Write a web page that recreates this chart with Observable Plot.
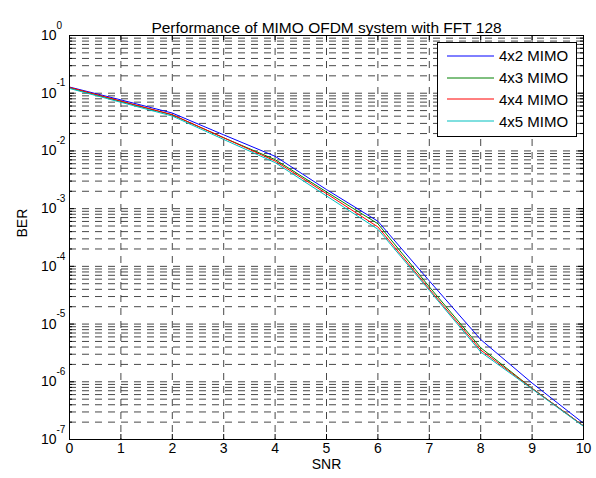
<!DOCTYPE html>
<html><head><meta charset="utf-8">
<script src="https://cdn.jsdelivr.net/npm/d3@7"></script>
<script src="https://cdn.jsdelivr.net/npm/@observablehq/plot@0.6"></script>
<style>
body{margin:0;background:#fff;}
#wrap{position:relative;width:596px;height:478px;font-family:"Liberation Sans",Arial,sans-serif;}
#legend{position:absolute;left:437px;top:42px;width:140px;height:95px;border:1px solid #000;background:#fff;box-sizing:border-box;padding-top:2px;}
.row{height:21.8px;display:flex;align-items:center;font-size:15px;color:#000;}
.row svg{margin-left:9px;margin-right:5px;}
</style></head><body><div id="wrap"><div id="legend"></div></div>
<script>
const title = "Performance of MIMO OFDM system with FFT 128";
const xLabel = "SNR";
const yLabel = "BER";
const snr = [0, 1, 2, 3, 4, 5, 6, 7, 8, 9, 10];
const series = ["4x2 MIMO", "4x3 MIMO", "4x4 MIMO", "4x5 MIMO"];
const colors = ["#0000ff", "#008000", "#ff0000", "#00bfbf"];
const ber4x2 = [0.128, 0.0766, 0.0453, 0.0190, 0.00807, 0.00214, 6.05e-4, 5.6e-5, 5.4e-6, 9.5e-7, 1.91e-7];
const ber4x3 = [0.124, 0.0721, 0.0421, 0.0169, 0.00707, 0.00195, 5.48e-4, 4.42e-5, 3.89e-6, 7.7e-7, 1.72e-7];
const ber4x4 = [0.126, 0.0730, 0.0425, 0.0169, 0.00669, 0.00182, 4.82e-4, 4.03e-5, 3.55e-6, 7.66e-7, 1.72e-7];
const ber4x5 = [0.121, 0.0696, 0.0402, 0.0158, 0.00628, 0.00166, 4.40e-4, 3.83e-5, 3.28e-6, 7.5e-7, 1.69e-7];
const xTicks = [0, 1, 2, 3, 4, 5, 6, 7, 8, 9, 10];
const yExponents = [0, -1, -2, -3, -4, -5, -6, -7];

const berSets = [ber4x2, ber4x3, ber4x4, ber4x5];
const data = series.flatMap((s, i) => snr.map((x, j) => ({series: s, snr: x, ber: berSets[i][j]})));
const yMajor = yExponents.map(e => Math.pow(10, e));
const yMinor = yExponents.filter(e => e < 0).flatMap(e => d3.range(2, 10).map(m => m * Math.pow(10, e)));
const yGrid = yMajor.concat(yMinor);

const W = 596, H = 478, mL = 69, mR = 13, mT = 35, mB = 39;
const innerW = W - mL - mR, innerH = H - mT - mB;
const font = "Liberation Sans, Arial, sans-serif";
const gridStyle = {stroke: "#1a1a1a", strokeOpacity: 0.8, strokeWidth: 1, strokeDasharray: "7,6"};

const chart = Plot.plot({
  width: W, height: H,
  marginLeft: mL, marginRight: mR, marginTop: mT, marginBottom: mB,
  style: {fontFamily: font, background: "#fff", overflow: "visible"},
  x: {domain: [0, 10], axis: null},
  y: {type: "log", domain: [1e-7, 1], axis: null},
  color: {domain: series, range: colors},
  marks: [
    Plot.ruleY(yGrid, {y: d => d, ...gridStyle}),
    Plot.ruleX(xTicks.slice(1, -1), {x: d => d, ...gridStyle}),
    Plot.line(data, {x: "snr", y: "ber", z: "series", stroke: "series", strokeWidth: 1}),
    Plot.tickX(xTicks, {x: d => d, insetTop: innerH - 5, stroke: "#000"}),
    Plot.tickX(xTicks, {x: d => d, insetBottom: innerH - 5, stroke: "#000"}),
    Plot.tickY(yMajor, {y: d => d, insetRight: innerW - 5, stroke: "#000"}),
    Plot.tickY(yMajor, {y: d => d, insetLeft: innerW - 5, stroke: "#000"}),
    Plot.tickY(yMinor, {y: d => d, insetRight: innerW - 3, stroke: "#000"}),
    Plot.tickY(yMinor, {y: d => d, insetLeft: innerW - 3, stroke: "#000"}),
    Plot.frame({stroke: "#000", strokeWidth: 1}),
    Plot.text(xTicks, {x: d => d, frameAnchor: "bottom", dy: 13, text: d => String(d), fontSize: 14, fill: "#000"}),
    Plot.text(yExponents, {y: d => Math.pow(10, d), frameAnchor: "left", dx: -13, textAnchor: "end", text: () => "10", fontSize: 14, fill: "#000"}),
    Plot.text(yExponents, {y: d => Math.pow(10, d), frameAnchor: "left", dx: -13, dy: -10, textAnchor: "start", text: d => String(d), fontSize: 10, fill: "#000"}),
    Plot.text([title], {frameAnchor: "top", dy: -14, fontSize: 15.5, fill: "#000"}),
    Plot.text([xLabel], {frameAnchor: "bottom", dy: 29, fontSize: 14, fill: "#000"}),
    Plot.text([yLabel], {frameAnchor: "left", dx: -47, rotate: -90, fontSize: 14, fill: "#000"})
  ]
});
document.getElementById("wrap").prepend(chart);

const legend = document.getElementById("legend");
series.forEach((s, i) => {
  const row = document.createElement("div");
  row.className = "row";
  row.innerHTML = `<svg width="47" height="4"><line x1="0" x2="47" y1="2" y2="2" stroke="${colors[i]}" stroke-width="1"/></svg><span>${s}</span>`;
  legend.appendChild(row);
});
</script></body></html>
